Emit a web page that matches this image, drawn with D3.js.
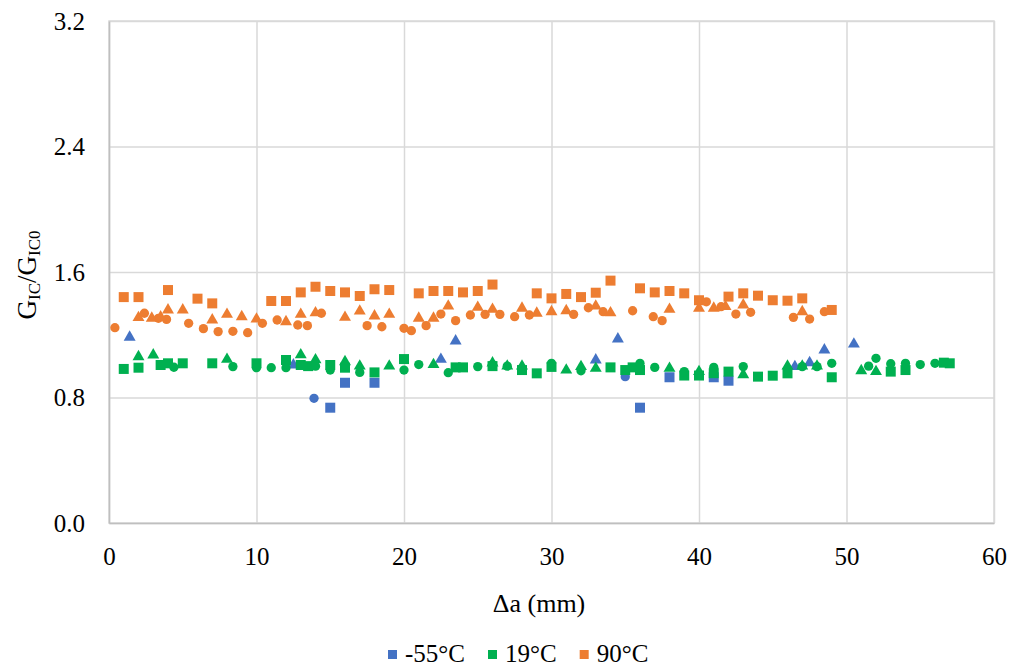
<!DOCTYPE html>
<html>
<head>
<meta charset="utf-8">
<script src="https://cdn.jsdelivr.net/npm/d3@7"></script>
<style>
  body { margin: 0; background: #fff; }
  svg text { font-family: "Liberation Serif", "Times New Roman", Times, "DejaVu Serif", serif !important; fill: #000; }
</style>
</head>
<body>
<svg id="chart" width="1013" height="668"></svg>
<script>
// x ticks / y ticks
const xTicks = [0, 10, 20, 30, 40, 50, 60];
const yTicks = [0, 0.8, 1.6, 2.4, 3.2];

// -55°C, three specimens (square / circle / triangle), [Δa, GIC/GIC0]
const m55Square = [[15, 0.735], [16, 0.894], [18, 0.894], [36, 0.735], [38, 0.929], [41, 0.929], [42, 0.907]];
const m55Circle = [[13.9, 0.795], [35, 0.933]];
const m55Triangle = [[1.4, 1.184], [12.5, 1.007], [22.5, 1.043], [23.5, 1.16], [33, 1.039], [34.5, 1.173],
  [46.5, 0.997], [47.5, 1.022], [48.5, 1.103], [50.5, 1.14]];

// 19°C
const t19Square = [[1, 0.982], [2, 0.99], [3.5, 1.007], [4, 1.018], [5, 1.018], [7, 1.018], [10, 1.018], [12, 1.039],
  [13, 1.007], [13.5, 1.0], [15, 1.007], [16, 0.99], [18, 0.96], [20, 1.045], [23.5, 0.992], [24, 0.992], [26, 1.0],
  [28, 0.975], [29, 0.954], [30, 0.995], [34, 0.992], [35, 0.975], [35.5, 0.992], [36, 0.975], [39, 0.94], [40, 0.94],
  [41, 0.955], [42, 0.965], [44, 0.933], [45, 0.939], [46, 0.954], [49, 0.929], [53, 0.965], [54, 0.975],
  [56.6, 1.022], [57, 1.018]];
const t19Circle = [[4.4, 0.993], [8.4, 0.997], [10, 0.99], [11, 0.99], [12, 0.99], [14, 1.0], [15, 0.975], [17, 0.96],
  [20, 0.975], [21, 1.01], [23, 0.958], [25, 0.997], [26, 1.01], [27, 1.0], [30, 1.018], [32, 0.97], [36, 1.018],
  [37, 0.992], [39, 0.965], [41, 0.992], [43, 0.997], [47, 0.997], [48, 0.997], [49, 1.018], [51.5, 1.0], [52, 1.05],
  [53, 1.015], [54, 1.018], [55, 1.01], [56, 1.018]];
const t19Triangle = [[2, 1.06], [3, 1.071], [8, 1.043], [13, 1.072], [14, 1.04], [16, 1.028], [17, 1.0], [19, 1.0],
  [22, 1.01], [26, 1.02], [27, 1.0], [28, 1.0], [31, 0.975], [32, 0.997], [33, 0.986], [38, 0.986], [40, 0.965],
  [43, 0.945], [46, 1.0], [47, 1.0], [48, 1.0], [51, 0.971], [52, 0.965]];

// 90°C
const t90Square = [[1, 1.44], [2, 1.44], [4, 1.485], [6, 1.43], [7, 1.40], [11, 1.415], [12, 1.415], [13, 1.47],
  [14, 1.506], [15, 1.479], [16, 1.47], [17, 1.447], [18, 1.49], [19, 1.485], [21, 1.464], [22, 1.479], [23, 1.479],
  [24, 1.47], [25, 1.479], [26, 1.52], [29, 1.464], [30, 1.432], [31, 1.46], [32, 1.44], [33, 1.468], [34, 1.545],
  [36, 1.496], [37, 1.47], [38, 1.479], [39, 1.464], [40, 1.42], [42, 1.443], [43, 1.464], [44, 1.449], [45, 1.42],
  [46, 1.417], [47, 1.432], [49, 1.358]];
const t90Circle = [[0.4, 1.245], [2.4, 1.337], [3.35, 1.305], [3.9, 1.298], [5.4, 1.273], [6.4, 1.239], [7.4, 1.22],
  [8.4, 1.222], [9.4, 1.213], [10.4, 1.273], [11.4, 1.294], [12.8, 1.262], [13.45, 1.258], [14.4, 1.337],
  [17.5, 1.258], [18.5, 1.251], [20, 1.241], [20.5, 1.226], [21.5, 1.258], [22.5, 1.332], [23.5, 1.29],
  [24.5, 1.326], [25.5, 1.33], [26.5, 1.33], [27.5, 1.315], [28.5, 1.326], [31.5, 1.33], [32.5, 1.372],
  [33.5, 1.347], [35.5, 1.353], [36.9, 1.315], [37.5, 1.29], [40.5, 1.41], [41.5, 1.379], [42.5, 1.332],
  [43.5, 1.343], [46.4, 1.311], [47.5, 1.30], [48.5, 1.347]];
const t90Triangle = [[2, 1.309], [2.9, 1.305], [3.5, 1.313], [4, 1.358], [5, 1.358], [7, 1.294], [8, 1.33], [9, 1.315],
  [10, 1.30], [12, 1.283], [13, 1.33], [14, 1.34], [16, 1.311], [17, 1.351], [18, 1.32], [19, 1.33], [21, 1.305],
  [22, 1.305], [23, 1.383], [25, 1.375], [26, 1.362], [28, 1.369], [29, 1.337], [30, 1.347], [31, 1.353], [33, 1.383],
  [34, 1.34], [38, 1.362], [40, 1.369], [41, 1.369], [41.8, 1.379], [43, 1.39], [47, 1.347]];

const seriesNames = ['-55°C', '19°C', '90°C'];
const seriesColors = ['#4472C4', '#00B050', '#ED7D31'];

const series = [
  { name: seriesNames[0], color: seriesColors[0], sets: [[m55Square, 'sq'], [m55Circle, 'ci'], [m55Triangle, 'tr']] },
  { name: seriesNames[1], color: seriesColors[1], sets: [[t19Square, 'sq'], [t19Circle, 'ci'], [t19Triangle, 'tr']] },
  { name: seriesNames[2], color: seriesColors[2], sets: [[t90Square, 'sq'], [t90Circle, 'ci'], [t90Triangle, 'tr']] }
];

const margin = { top: 21, right: 19, bottom: 145, left: 109 };
const svg = d3.select('#chart');
const width = 1013 - margin.left - margin.right;
const height = 668 - margin.top - margin.bottom;

const x = d3.scaleLinear().domain([0, 60]).range([0, width]);
const y = d3.scaleLinear().domain([0, 3.2]).range([height, 0]);

const g = svg.append('g').attr('transform', `translate(${margin.left},${margin.top})`);

// gridlines
g.append('g')
  .call(d3.axisLeft(y).tickValues(yTicks).tickSize(-width).tickFormat(''))
  .call(a => a.select('.domain').remove())
  .call(a => a.selectAll('line').attr('stroke', '#d9d9d9').attr('stroke-width', 1.5));
g.append('g')
  .attr('transform', `translate(0,${height})`)
  .call(d3.axisBottom(x).tickValues(xTicks).tickSize(-height).tickFormat(''))
  .call(a => a.select('.domain').remove())
  .call(a => a.selectAll('line').attr('stroke', '#d9d9d9').attr('stroke-width', 1.5));

// plot border
g.append('rect')
  .attr('width', width).attr('height', height)
  .attr('fill', 'none').attr('stroke', '#d9d9d9').attr('stroke-width', 1.5);

// axes
const yAxis = g.append('g')
  .call(d3.axisLeft(y).tickValues(yTicks).tickSize(0).tickPadding(24).tickFormat(d3.format('.1f')));
yAxis.attr('font-family', null);
yAxis.select('.domain').attr('stroke', '#bfbfbf').attr('stroke-width', 1.5);
yAxis.selectAll('text').attr('font-size', 25).attr('fill', '#000');

const xAxis = g.append('g')
  .attr('transform', `translate(0,${height})`)
  .call(d3.axisBottom(x).tickValues(xTicks).tickSize(0).tickPadding(24).tickFormat(d3.format('d')));
xAxis.attr('font-family', null);
xAxis.select('.domain').attr('stroke', '#bfbfbf').attr('stroke-width', 1.5);
xAxis.selectAll('text').attr('font-size', 25).attr('fill', '#000');

// markers
const shapes = {
  sq: d3.symbol().type(d3.symbolSquare).size(100),
  ci: d3.symbol().type(d3.symbolCircle).size(68),
  tr: d3.symbol().type(d3.symbolTriangle).size(62)
};

series.forEach(s => {
  s.sets.forEach(([pts, shape]) => {
    g.append('g').selectAll('path')
      .data(pts)
      .enter().append('path')
      .attr('d', shapes[shape])
      .attr('transform', d => `translate(${x(d[0])},${y(d[1])})`)
      .attr('fill', s.color);
  });
});

// x axis title
svg.append('text')
  .attr('x', 539).attr('y', 612)
  .attr('text-anchor', 'middle')
  .attr('font-size', 26)
  .text('Δa (mm)');

// y axis title
const yt = svg.append('text')
  .attr('transform', 'translate(36,275) rotate(-90)')
  .attr('text-anchor', 'middle')
  .attr('font-size', 27);
yt.append('tspan').text('G');
yt.append('tspan').attr('font-size', 17).attr('dy', 4).text('IC');
yt.append('tspan').attr('dy', -4).text('/G');
yt.append('tspan').attr('font-size', 17).attr('dy', 4).text('IC0');

// legend
const legend = svg.append('g');
let lx = 388;
series.forEach(s => {
  legend.append('rect')
    .attr('x', lx).attr('y', 650).attr('width', 9).attr('height', 9)
    .attr('fill', s.color);
  const t = legend.append('text')
    .attr('x', lx + 17).attr('y', 662)
    .attr('font-size', 25)
    .text(s.name);
  lx += 17 + t.node().getComputedTextLength() + 23;
});
</script>
</body>
</html>
